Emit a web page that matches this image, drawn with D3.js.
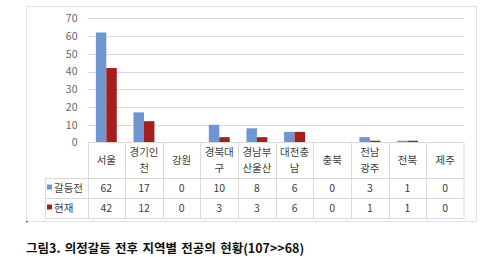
<!DOCTYPE html>
<html>
<head>
<meta charset="utf-8">
<script src="https://cdn.jsdelivr.net/npm/d3@7"></script>
<style>
  html, body { margin: 0; padding: 0; background: #fff; }
  svg { display: block; }
  text { font-family: "Noto Sans CJK KR", "Noto Sans", sans-serif; }
</style>
</head>
<body>
<svg id="chart" width="500" height="257"></svg>
<script>
// Regions (header lines of the data table)
const categories = ["서울", "경기인천", "강원", "경북대구", "경남부산울산", "대전충남", "충북", "전남광주", "전북", "제주"];
const categoryLines = [["서울"], ["경기인", "천"], ["강원"], ["경북대", "구"], ["경남부", "산울산"], ["대전충", "남"], ["충북"], ["전남", "광주"], ["전북"], ["제주"]];
const seriesNames = ["갈등전", "현재"];
const beforeValues = [62, 17, 0, 10, 8, 6, 0, 3, 1, 0];
const nowValues = [42, 12, 0, 3, 3, 6, 0, 1, 1, 0];
const yTicks = [0, 10, 20, 30, 40, 50, 60, 70];
const captionText = "그림3. 의정갈등 전후 지역별 전공의 현황(107>>68)";

const colors = { "갈등전": "#6F96D0", "현재": "#A51E1E" };
const gridColor = "#D9D9D9";

const svg = d3.select("#chart");

// chart frame
svg.append("rect")
  .attr("x", 26.5).attr("y", 6.5).attr("width", 450).attr("height", 215)
  .attr("fill", "#fff").attr("stroke", "#E2E2E2");

const plot = { left: 87.5, right: 464, top: 18.3, bottom: 142.5 };

const x = d3.scaleBand().domain(categories).range([plot.left, plot.right]).paddingInner(0).paddingOuter(0);
const xs = d3.scaleBand().domain(seriesNames).range([x.bandwidth() * 0.222, x.bandwidth() * 0.778]).padding(0);
const y = d3.scaleLinear().domain([0, 70]).range([plot.bottom, plot.top]);

// gridlines
svg.append("g").selectAll("line").data(yTicks.filter(d => d > 0)).join("line")
  .attr("x1", plot.left).attr("x2", plot.right)
  .attr("y1", d => Math.round(y(d)) + 0.5).attr("y2", d => Math.round(y(d)) + 0.5)
  .attr("stroke", gridColor).attr("stroke-width", 1);

// y axis labels
const yAxis = d3.axisLeft(y).tickValues(yTicks).tickSize(0).tickPadding(10);
const yg = svg.append("g").attr("transform", `translate(${plot.left},0)`).call(yAxis);
yg.select(".domain").remove();
yg.selectAll("text").attr("fill", "#666").attr("font-size", 10.5);

// bars
const rows = categories.map((c, i) => ({ c, values: [beforeValues[i], nowValues[i]] }));
const groups = svg.append("g").selectAll("g").data(rows).join("g")
  .attr("transform", d => `translate(${x(d.c)},0)`);
groups.selectAll("rect").data(d => d.values.map((v, k) => ({ s: seriesNames[k], v }))).join("rect")
  .attr("x", d => xs(d.s)).attr("width", xs.bandwidth())
  .attr("y", d => y(d.v)).attr("height", d => y(0) - y(d.v))
  .attr("fill", d => colors[d.s]);

// data table
const table = svg.append("g");
const headerBottom = 178.5, row1Bottom = 198.5, row2Bottom = 218.5, legendLeft = 45.5;
const lineAttr = sel => sel.attr("stroke", gridColor).attr("stroke-width", 1);

table.append("line").attr("x1", plot.left).attr("x2", plot.right).attr("y1", plot.bottom).attr("y2", plot.bottom).call(lineAttr);
[headerBottom, row1Bottom, row2Bottom].forEach(yy => {
  table.append("line").attr("x1", legendLeft).attr("x2", plot.right).attr("y1", yy).attr("y2", yy).call(lineAttr);
});
categories.forEach(c => {
  const xx = Math.round(x(c)) + 0.5;
  table.append("line").attr("x1", xx).attr("x2", xx).attr("y1", plot.bottom).attr("y2", row2Bottom).call(lineAttr);
});
table.append("line").attr("x1", plot.right).attr("x2", plot.right).attr("y1", plot.bottom).attr("y2", row2Bottom).call(lineAttr);
table.append("line").attr("x1", legendLeft).attr("x2", legendLeft).attr("y1", headerBottom).attr("y2", row2Bottom).call(lineAttr);

// header labels
categories.forEach((c, i) => {
  const lines = categoryLines[i];
  const cx = x(c) + x.bandwidth() / 2;
  const mid = (plot.bottom + headerBottom) / 2;
  const lh = 15.5;
  lines.forEach((t, j) => {
    table.append("text")
      .attr("x", cx).attr("y", mid + (j - (lines.length - 1) / 2) * lh)
      .attr("dy", "0.35em").attr("text-anchor", "middle")
      .attr("font-size", 10.5).attr("fill", "#404040").text(t);
  });
});

// value rows with legend keys
const rowMids = [(headerBottom + row1Bottom) / 2, (row1Bottom + row2Bottom) / 2];
[beforeValues, nowValues].forEach((vals, k) => {
  table.append("rect").attr("x", 47).attr("y", rowMids[k] - 4).attr("width", 5).attr("height", 5)
    .attr("fill", colors[seriesNames[k]]);
  table.append("text").attr("x", 54).attr("y", rowMids[k]).attr("dy", "0.35em")
    .attr("font-size", 10.5).attr("fill", "#404040").text(seriesNames[k]);
  vals.forEach((v, i) => {
    table.append("text")
      .attr("x", x(categories[i]) + x.bandwidth() / 2).attr("y", rowMids[k]).attr("dy", "0.35em")
      .attr("text-anchor", "middle").attr("font-size", 10.5).attr("fill", "#404040").text(v);
  });
});

// small mark under the frame
svg.append("rect").attr("x", 26).attr("y", 221).attr("width", 1.5).attr("height", 1.5).attr("fill", "#555");

// caption
svg.append("text").attr("x", 26).attr("y", 252.5)
  .attr("font-size", 12.5).attr("font-weight", "bold").attr("word-spacing", 1.5)
  .attr("fill", "#111").text(captionText);
</script>
</body>
</html>
